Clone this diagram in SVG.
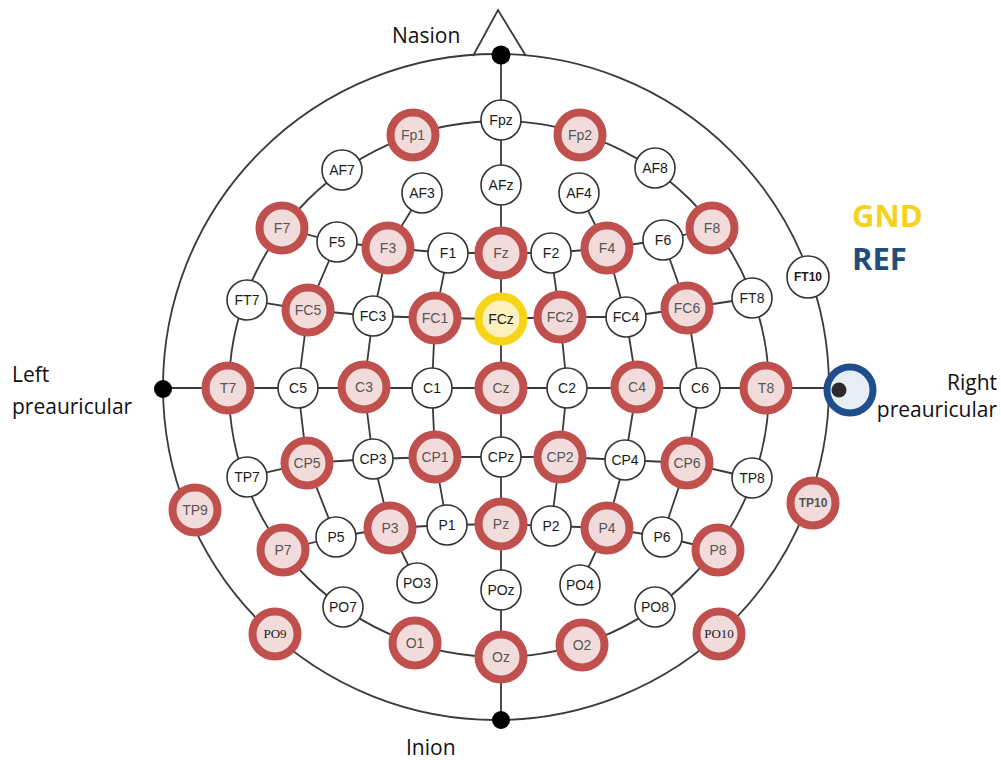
<svg xmlns="http://www.w3.org/2000/svg" width="1001" height="760" viewBox="0 0 1001 760">
<style>
.bg{fill:#ffffff}
.ln{fill:none;stroke:#3a3a3a;stroke-width:1.8}
.w{fill:#ffffff;stroke:#333333;stroke-width:1.6}
.r{fill:#f2dcdb;stroke:#c0504d;stroke-width:8}
.y{fill:#fcf1bd;stroke:#f7d417;stroke-width:8}
.dot{fill:#000000}
.t{font-family:"Liberation Sans",Arial,sans-serif;font-size:14px;text-anchor:middle;fill:#1a1a1a}
.tr{fill:#555555}
.ser{font-family:"Liberation Serif","Times New Roman",serif;font-size:13px}
.sm{font-size:12px;font-weight:bold}
.lab{font-family:"Open Sans","Liberation Sans",sans-serif;font-size:21px;fill:#111111}
.big{font-family:"Open Sans","Liberation Sans",sans-serif;font-size:31px;font-weight:bold}
</style>
<rect class="bg" x="0" y="0" width="1001" height="760"/>
<g id="connectors">
  <circle class="ln" cx="496" cy="387" r="333"/>
  <ellipse class="ln" cx="499" cy="389" rx="270" ry="268"/>
  <polyline class="ln" points="473,56 498,10 526,56"/>
  <line class="ln" x1="501" y1="54" x2="501" y2="720"/>
  <line class="ln" x1="163" y1="388" x2="850" y2="388"/>
  <polyline class="ln" points="282,228 337,242 388,248 448,253 501,253 551,253 607,248 663,240 712,228"/>
  <polyline class="ln" points="247,300 308,310 373,316 435,318 501,319 560,317 626,317 687,308 752,298"/>
  <polyline class="ln" points="247,477 307,463 373,459 435,457 501,457 560,457 625,460 687,463 752,478"/>
  <polyline class="ln" points="283,550 336,537 390,528 447,525 501,524 551,526 607,528 662,537 718,550"/>
  <polyline class="ln" points="422,193 388,248 373,316 364,387 373,459 390,528 417,583"/>
  <polyline class="ln" points="337,242 308,310 298,388 307,463 336,537"/>
  <polyline class="ln" points="448,253 435,318 432,388 435,457 447,525"/>
  <polyline class="ln" points="551,253 560,317 567,388 560,457 551,526"/>
  <polyline class="ln" points="579,193 607,248 626,317 637,387 625,460 607,528 580,585"/>
  <polyline class="ln" points="663,240 687,308 700,388 687,463 662,537"/>
</g>
<g id="landmarks">
  <circle class="dot" cx="501" cy="55" r="9.5"/>
  <circle class="dot" cx="501" cy="720" r="9"/>
  <circle class="dot" cx="163" cy="389" r="9"/>
</g>
<g id="node-Fpz"><circle class="w" cx="501" cy="120" r="20"/><text class="t" x="501" y="125">Fpz</text></g>
<g id="node-Fp1"><circle class="r" cx="413" cy="135" r="22.5"/><text class="t tr" x="413" y="140">Fp1</text></g>
<g id="node-Fp2"><circle class="r" cx="580" cy="135" r="22.5"/><text class="t tr" x="580" y="140">Fp2</text></g>
<g id="node-AF7"><circle class="w" cx="342" cy="170" r="20"/><text class="t" x="342" y="175">AF7</text></g>
<g id="node-AF3"><circle class="w" cx="422" cy="193" r="20"/><text class="t" x="422" y="198">AF3</text></g>
<g id="node-AFz"><circle class="w" cx="501" cy="185" r="20"/><text class="t" x="501" y="190">AFz</text></g>
<g id="node-AF4"><circle class="w" cx="579" cy="193" r="20"/><text class="t" x="579" y="198">AF4</text></g>
<g id="node-AF8"><circle class="w" cx="655" cy="168" r="20"/><text class="t" x="655" y="173">AF8</text></g>
<g id="node-F7"><circle class="r" cx="282" cy="228" r="22.5"/><text class="t tr" x="282" y="233">F7</text></g>
<g id="node-F5"><circle class="w" cx="337" cy="242" r="20"/><text class="t" x="337" y="247">F5</text></g>
<g id="node-F3"><circle class="r" cx="388" cy="248" r="22.5"/><text class="t tr" x="388" y="253">F3</text></g>
<g id="node-F1"><circle class="w" cx="448" cy="253" r="20"/><text class="t" x="448" y="258">F1</text></g>
<g id="node-Fz"><circle class="r" cx="501" cy="253" r="22.5"/><text class="t tr" x="501" y="258">Fz</text></g>
<g id="node-F2"><circle class="w" cx="551" cy="253" r="20"/><text class="t" x="551" y="258">F2</text></g>
<g id="node-F4"><circle class="r" cx="607" cy="248" r="22.5"/><text class="t tr" x="607" y="253">F4</text></g>
<g id="node-F6"><circle class="w" cx="663" cy="240" r="20"/><text class="t" x="663" y="245">F6</text></g>
<g id="node-F8"><circle class="r" cx="712" cy="228" r="22.5"/><text class="t tr" x="712" y="233">F8</text></g>
<g id="node-FT7"><circle class="w" cx="247" cy="300" r="20"/><text class="t" x="247" y="305">FT7</text></g>
<g id="node-FC5"><circle class="r" cx="308" cy="310" r="22.5"/><text class="t tr" x="308" y="315">FC5</text></g>
<g id="node-FC3"><circle class="w" cx="373" cy="316" r="20"/><text class="t" x="373" y="321">FC3</text></g>
<g id="node-FC1"><circle class="r" cx="435" cy="318" r="22.5"/><text class="t tr" x="435" y="323">FC1</text></g>
<g id="node-FCz"><circle class="y" cx="501" cy="319" r="22.5"/><text class="t" x="501" y="324" fill="#555">FCz</text></g>
<g id="node-FC2"><circle class="r" cx="560" cy="317" r="22.5"/><text class="t tr" x="560" y="322">FC2</text></g>
<g id="node-FC4"><circle class="w" cx="626" cy="317" r="20"/><text class="t" x="626" y="322">FC4</text></g>
<g id="node-FC6"><circle class="r" cx="687" cy="308" r="22.5"/><text class="t tr" x="687" y="313">FC6</text></g>
<g id="node-FT8"><circle class="w" cx="752" cy="298" r="20"/><text class="t" x="752" y="303">FT8</text></g>
<g id="node-FT10"><circle class="w" cx="808" cy="277" r="21"/><text class="t sm" x="808" y="281">FT10</text></g>
<g id="node-T7"><circle class="r" cx="228" cy="388" r="22.5"/><text class="t tr" x="228" y="393">T7</text></g>
<g id="node-C5"><circle class="w" cx="298" cy="388" r="20"/><text class="t" x="298" y="393">C5</text></g>
<g id="node-C3"><circle class="r" cx="364" cy="387" r="22.5"/><text class="t tr" x="364" y="392">C3</text></g>
<g id="node-C1"><circle class="w" cx="432" cy="388" r="20"/><text class="t" x="432" y="393">C1</text></g>
<g id="node-Cz"><circle class="r" cx="501" cy="388" r="22.5"/><text class="t tr" x="501" y="393">Cz</text></g>
<g id="node-C2"><circle class="w" cx="567" cy="388" r="20"/><text class="t" x="567" y="393">C2</text></g>
<g id="node-C4"><circle class="r" cx="637" cy="387" r="22.5"/><text class="t tr" x="637" y="392">C4</text></g>
<g id="node-C6"><circle class="w" cx="700" cy="388" r="20"/><text class="t" x="700" y="393">C6</text></g>
<g id="node-T8"><circle class="r" cx="766" cy="388" r="22.5"/><text class="t tr" x="766" y="393">T8</text></g>
<g id="node-REF"><circle cx="850" cy="390" r="23" fill="#e6edf5" stroke="#1f4e8c" stroke-width="7"/><circle cx="839" cy="390" r="7.5" fill="#2b2b2b"/></g>
<g id="node-TP7"><circle class="w" cx="247" cy="477" r="20"/><text class="t" x="247" y="482">TP7</text></g>
<g id="node-CP5"><circle class="r" cx="307" cy="463" r="22.5"/><text class="t tr" x="307" y="468">CP5</text></g>
<g id="node-CP3"><circle class="w" cx="373" cy="459" r="20"/><text class="t" x="373" y="464">CP3</text></g>
<g id="node-CP1"><circle class="r" cx="435" cy="457" r="22.5"/><text class="t tr" x="435" y="462">CP1</text></g>
<g id="node-CPz"><circle class="w" cx="501" cy="457" r="20"/><text class="t" x="501" y="462">CPz</text></g>
<g id="node-CP2"><circle class="r" cx="560" cy="457" r="22.5"/><text class="t tr" x="560" y="462">CP2</text></g>
<g id="node-CP4"><circle class="w" cx="625" cy="460" r="20"/><text class="t" x="625" y="465">CP4</text></g>
<g id="node-CP6"><circle class="r" cx="687" cy="463" r="22.5"/><text class="t tr" x="687" y="468">CP6</text></g>
<g id="node-TP8"><circle class="w" cx="752" cy="478" r="20"/><text class="t" x="752" y="483">TP8</text></g>
<g id="node-TP9"><circle class="r" cx="195" cy="510" r="22.5"/><text class="t tr" x="195" y="515">TP9</text></g>
<g id="node-TP10"><circle class="r" cx="813" cy="503" r="22.5"/><text class="t tr sm" x="813" y="507">TP10</text></g>
<g id="node-P7"><circle class="r" cx="283" cy="550" r="22.5"/><text class="t tr" x="283" y="555">P7</text></g>
<g id="node-P5"><circle class="w" cx="336" cy="537" r="20"/><text class="t" x="336" y="542">P5</text></g>
<g id="node-P3"><circle class="r" cx="390" cy="528" r="22.5"/><text class="t tr" x="390" y="533">P3</text></g>
<g id="node-P1"><circle class="w" cx="447" cy="525" r="20"/><text class="t" x="447" y="530">P1</text></g>
<g id="node-Pz"><circle class="r" cx="501" cy="524" r="22.5"/><text class="t tr" x="501" y="529">Pz</text></g>
<g id="node-P2"><circle class="w" cx="551" cy="526" r="20"/><text class="t" x="551" y="531">P2</text></g>
<g id="node-P4"><circle class="r" cx="607" cy="528" r="22.5"/><text class="t tr" x="607" y="533">P4</text></g>
<g id="node-P6"><circle class="w" cx="662" cy="537" r="20"/><text class="t" x="662" y="542">P6</text></g>
<g id="node-P8"><circle class="r" cx="718" cy="550" r="22.5"/><text class="t tr" x="718" y="555">P8</text></g>
<g id="node-PO3"><circle class="w" cx="417" cy="583" r="20"/><text class="t" x="417" y="588">PO3</text></g>
<g id="node-POz"><circle class="w" cx="501" cy="590" r="20"/><text class="t" x="501" y="595">POz</text></g>
<g id="node-PO4"><circle class="w" cx="580" cy="585" r="20"/><text class="t" x="580" y="590">PO4</text></g>
<g id="node-PO7"><circle class="w" cx="343" cy="607" r="20"/><text class="t" x="343" y="612">PO7</text></g>
<g id="node-PO8"><circle class="w" cx="655" cy="607" r="20"/><text class="t" x="655" y="612">PO8</text></g>
<g id="node-PO9"><circle class="r" cx="275" cy="634" r="22.5"/><text class="t ser" x="275" y="638" fill="#1a1a1a">PO9</text></g>
<g id="node-PO10"><circle class="r" cx="719" cy="634" r="22.5"/><text class="t ser" x="719" y="638" fill="#1a1a1a">PO10</text></g>
<g id="node-O1"><circle class="r" cx="415" cy="643" r="22.5"/><text class="t tr" x="415" y="648">O1</text></g>
<g id="node-Oz"><circle class="r" cx="501" cy="657" r="22.5"/><text class="t tr" x="501" y="662">Oz</text></g>
<g id="node-O2"><circle class="r" cx="582" cy="645" r="22.5"/><text class="t tr" x="582" y="650">O2</text></g>
<g id="labels">
  <text class="lab" x="392" y="43">Nasion</text>
  <text class="lab" x="406" y="755">Inion</text>
  <text class="lab" x="12" y="382">Left</text>
  <text class="lab" x="12" y="414">preauricular</text>
  <text class="lab" x="997" y="390" text-anchor="end">Right</text>
  <text class="lab" x="997" y="417" text-anchor="end">preauricular</text>
  <text class="big" x="852" y="227" fill="#f5d21e">GND</text>
  <text class="big" x="852" y="270" fill="#1f4e79">REF</text>
</g>
</svg>
